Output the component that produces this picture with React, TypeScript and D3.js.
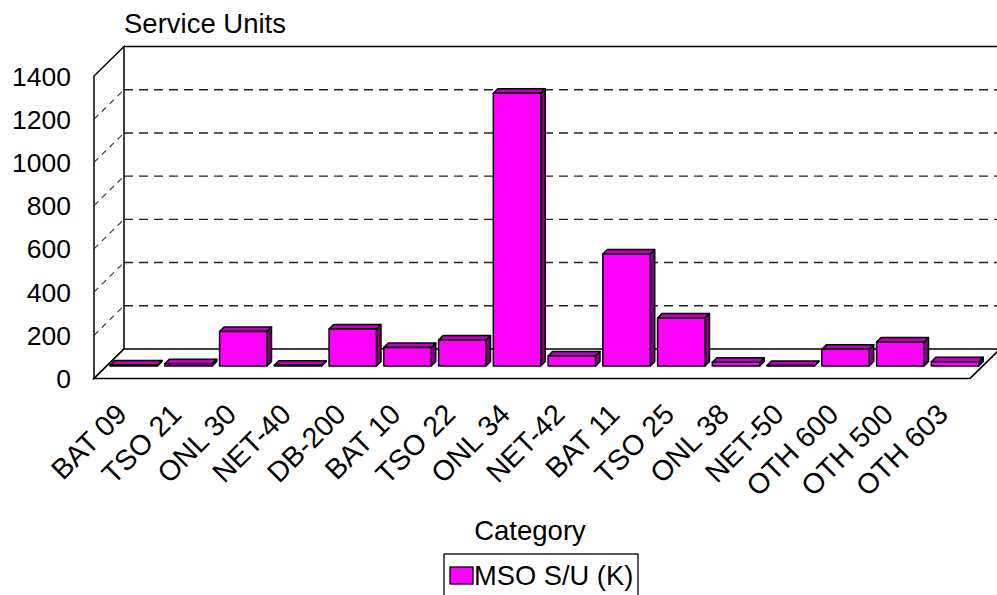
import React from "react";
import * as d3 from "d3";

const categories = [
  "BAT 09", "TSO 21", "ONL 30", "NET-40", "DB-200", "BAT 10", "TSO 22", "ONL 34",
  "NET-42", "BAT 11", "TSO 25", "ONL 38", "NET-50", "OTH 600", "OTH 500", "OTH 603",
];
const msoValues = [5, 10, 160, 3, 171, 86, 120, 1262, 46, 518, 222, 17, 2, 77, 111, 20];
const yTickValues = [0, 200, 400, 600, 800, 1000, 1200, 1400];
const seriesName = "MSO S/U (K)";
const yTitle = "Service Units";
const xTitle = "Category";

const W = 997;
const H = 595;
const FONT = "Arial, 'Liberation Sans', Helvetica, sans-serif";

// geometry
const frontLeft = 94;
const frontRight = 970;
const frontBase = 378.5;
const depthX = 30;
const depthY = -29.5;
const plotH = 302.5;
const barShiftX = 12.4;
const barShiftY = -12.5;
const barDX = 4.5;
const barDY = -4.5;

export default function App() {
  const x = d3
    .scaleBand<string>()
    .domain(categories)
    .range([frontLeft, frontRight])
    .paddingInner(0.134)
    .paddingOuter(0.067);
  const h = d3.scaleLinear().domain([0, 1400]).range([0, plotH]);

  const backLeft = frontLeft + depthX;
  const backBase = frontBase + depthY;
  const backRight = frontRight + depthX;
  const barBase = frontBase + barShiftY;

  const grid = yTickValues.filter((v) => v > 0 && v < 1400);

  return (
    <svg
      width={W}
      height={H}
      style={{ position: "absolute", left: 0, top: 0, display: "block", background: "#fff" }}
      fontFamily={FONT}
    >
      {/* walls */}
      <polygon
        points={`${frontLeft},${frontBase} ${frontLeft},${frontBase - h(1400)} ${backLeft},${backBase - h(1400)} ${backLeft},${backBase}`}
        fill="#fff"
        stroke="#000"
        strokeWidth={1.5}
      />
      <line x1={backLeft} y1={backBase - h(1400)} x2={W + 5} y2={backBase - h(1400)} stroke="#000" strokeWidth={1.5} />
      {grid.map((v) => (
        <g key={v}>
          <line
            x1={backLeft}
            y1={backBase - h(v)}
            x2={W}
            y2={backBase - h(v)}
            stroke="#222"
            strokeWidth={1.4}
            strokeDasharray="9,6"
          />
          <line
            x1={frontLeft}
            y1={frontBase - h(v)}
            x2={backLeft}
            y2={backBase - h(v)}
            stroke="#333"
            strokeWidth={1.1}
            strokeDasharray="6,5"
          />
        </g>
      ))}
      {/* floor */}
      <polygon
        points={`${frontLeft},${frontBase} ${frontRight},${frontBase} ${backRight},${backBase} ${backLeft},${backBase}`}
        fill="#fff"
        stroke="#000"
        strokeWidth={1.7}
      />
      {/* bars */}
      {categories.map((c, i) => {
        const x0 = (x(c) as number) + barShiftX;
        const x1 = x0 + x.bandwidth();
        const yt = barBase - h(msoValues[i]);
        return (
          <g key={c} stroke="#000" strokeWidth={1.5} strokeLinejoin="round">
            <polygon
              points={`${x1},${yt} ${x1 + barDX},${yt + barDY} ${x1 + barDX},${barBase + barDY} ${x1},${barBase}`}
              fill="#800080"
            />
            <polygon
              points={`${x0},${yt} ${x0 + barDX},${yt + barDY} ${x1 + barDX},${yt + barDY} ${x1},${yt}`}
              fill="#c000c0"
            />
            <rect x={x0} y={yt} width={x1 - x0} height={barBase - yt} fill="#ff00ff" />
          </g>
        );
      })}
      {/* y tick labels */}
      {yTickValues.map((v) => (
        <text key={v} x={71} y={frontBase - h(v) + 9.5} textAnchor="end" fontSize={26.5} fill="#000">
          {v}
        </text>
      ))}
      {/* x labels */}
      {categories.map((c) => {
        const ax = (x(c) as number) + x.bandwidth() / 2 + 7;
        const ay = 416;
        return (
          <text
            key={c}
            x={ax}
            y={ay}
            textAnchor="end"
            fontSize={28.5}
            transform={`rotate(-45, ${ax}, ${ay})`}
            fill="#000"
          >
            {c}
          </text>
        );
      })}
      {/* titles */}
      <text x={124} y={33} fontSize={27.5} fill="#000">
        {yTitle}
      </text>
      <text x={530} y={540} fontSize={27.5} textAnchor="middle" fill="#000">
        {xTitle}
      </text>
      {/* legend */}
      <rect x={444} y={554} width={194} height={60} fill="#fff" stroke="#000" strokeWidth={1.3} />
      <rect x={450} y={567} width={23} height={17} fill="#ff00ff" stroke="#000" strokeWidth={1.3} />
      <text x={474} y={585} fontSize={27.3} fill="#000">
        {seriesName}
      </text>
    </svg>
  );
}
